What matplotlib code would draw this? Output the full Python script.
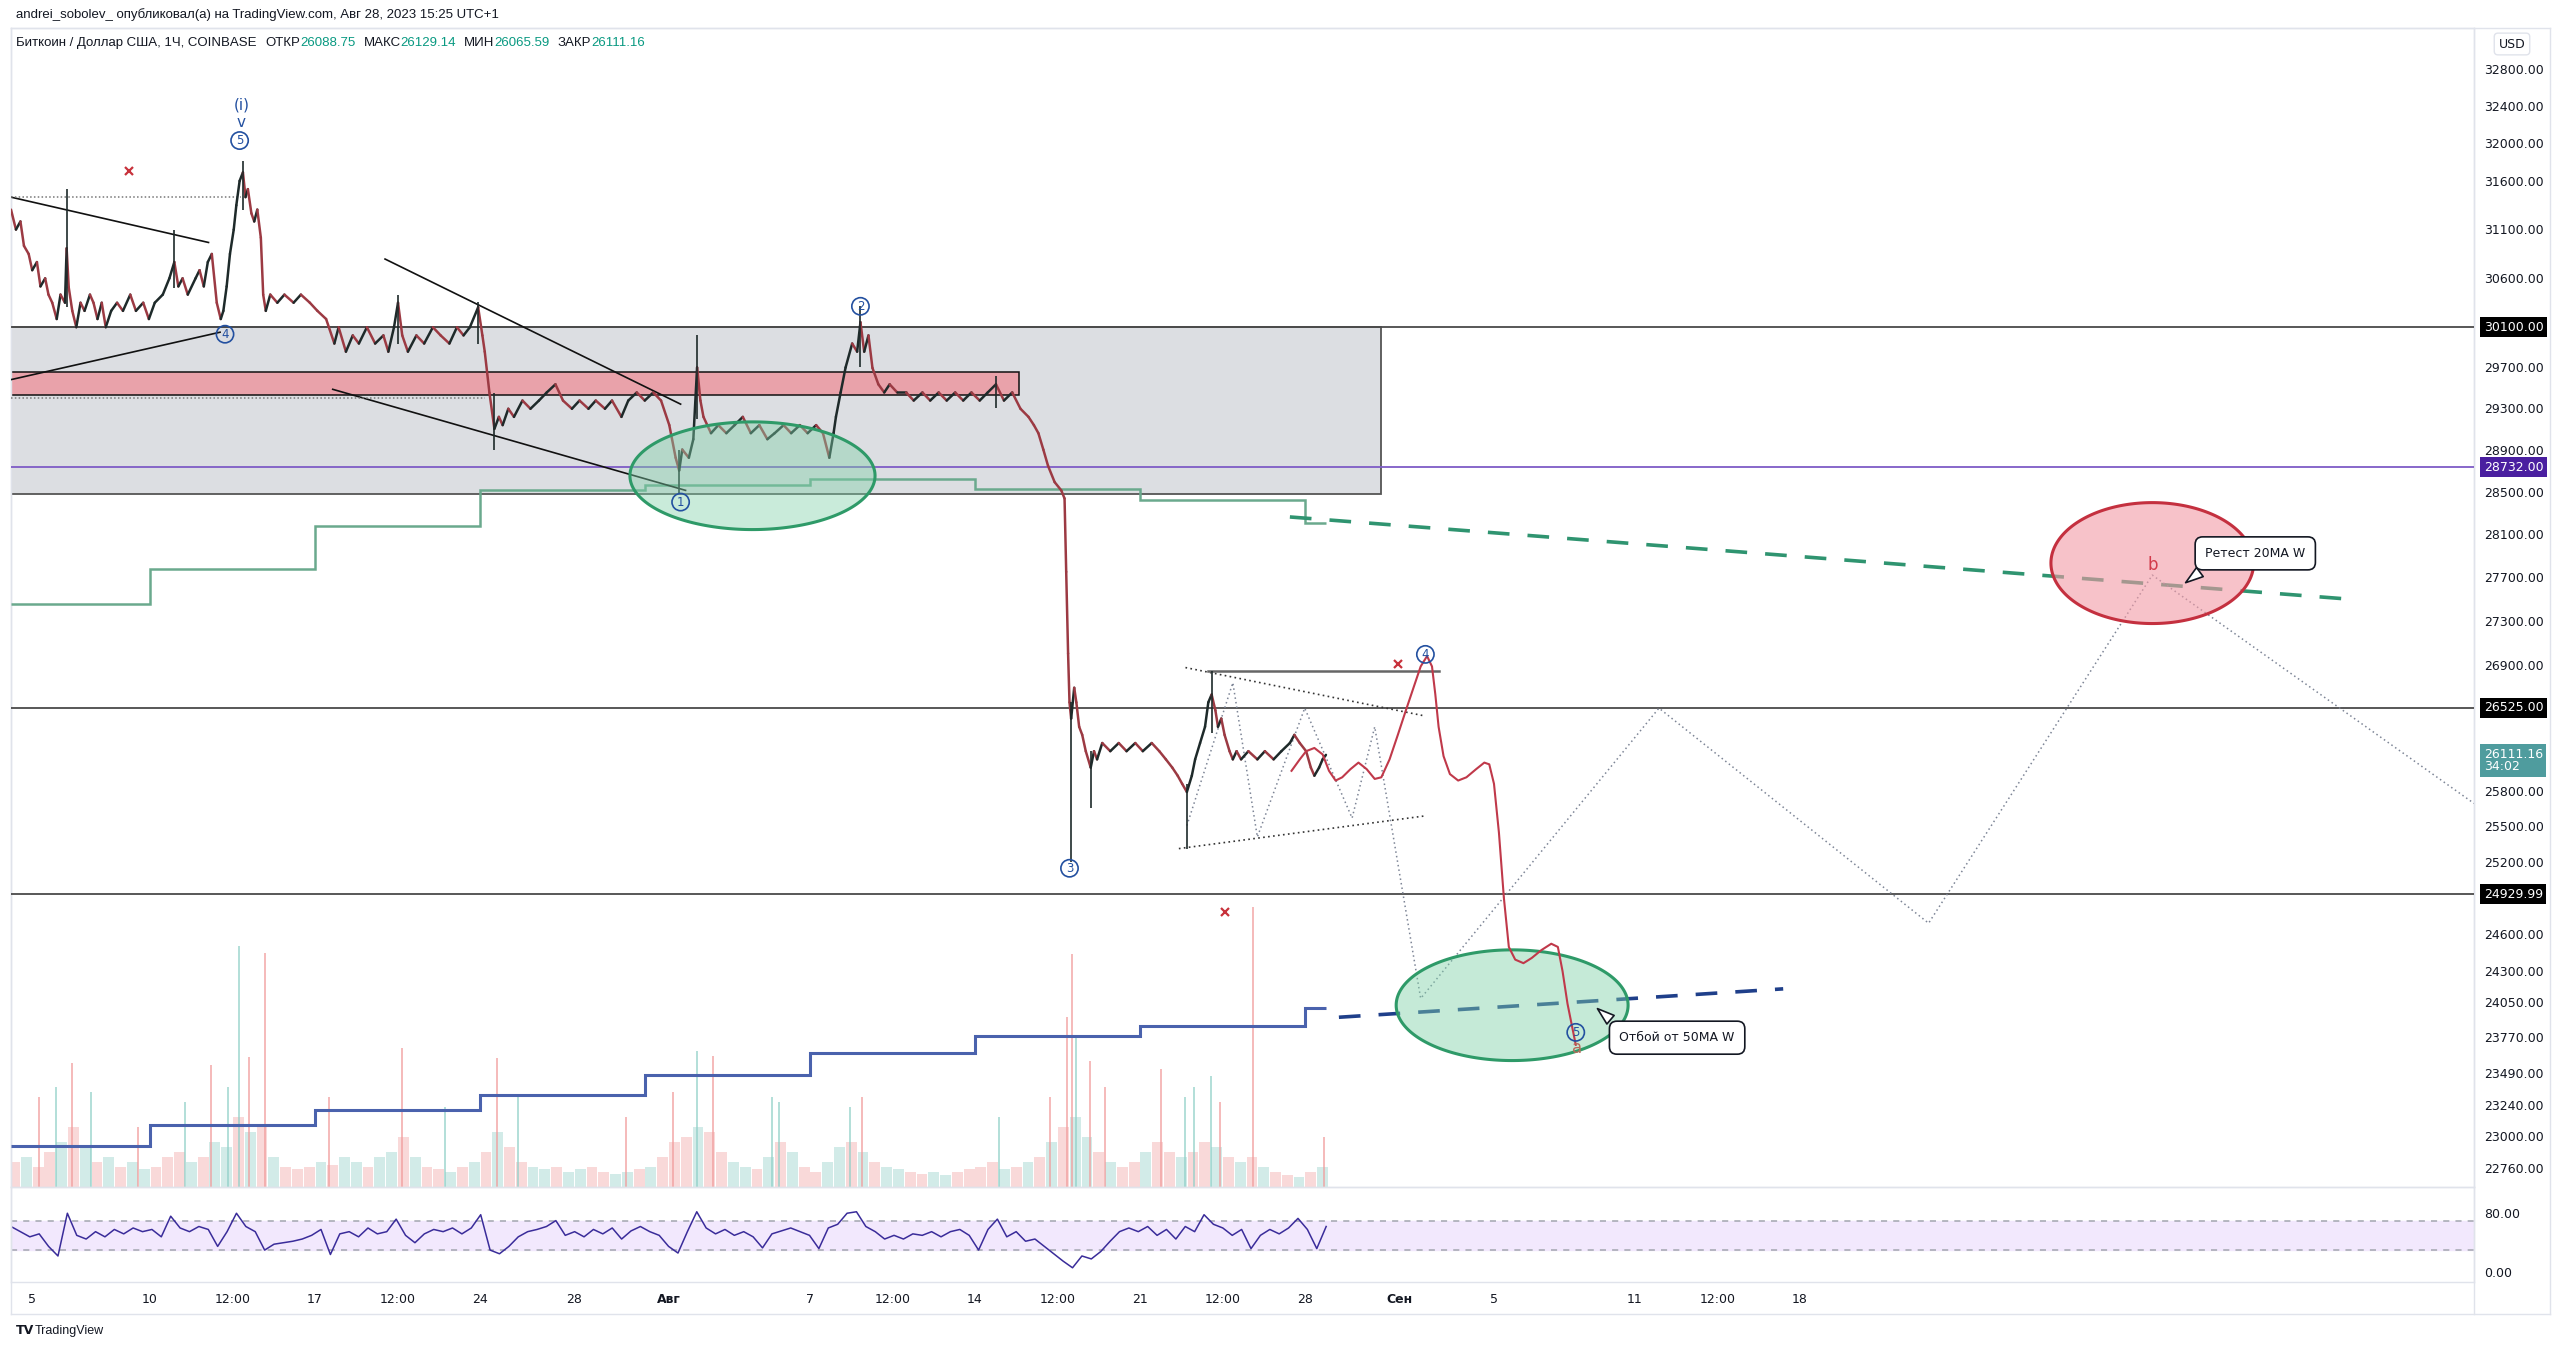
import numpy as np
import matplotlib
matplotlib.use("Agg")
import matplotlib.pyplot as plt
import matplotlib.transforms as mtransforms
from matplotlib.collections import LineCollection
from matplotlib.colors import to_rgba
from matplotlib.lines import Line2D
from matplotlib.patches import Rectangle
from matplotlib.ticker import NullLocator

plt.rcParams["font.family"] = ["DejaVu Sans", "Noto Sans CJK JP"]

# x = days since 1 July 2023 00:00 (UTC+1), y = price in USD (log axis)

# ---------------- price path ----------------
price_points = [
    (3.10, 31300), (3.31, 31093), (3.50, 31177), (3.65, 30925), (3.85, 30842),
    (4.00, 30676), (4.20, 30759), (4.35, 30511), (4.55, 30593), (4.69, 30428),
    (4.85, 30346), (5.04, 30182), (5.20, 30428), (5.39, 30346), (5.46, 30900),
    (5.55, 30500), (5.70, 30264), (5.87, 30100), (6.05, 30346), (6.22, 30264),
    (6.45, 30428), (6.60, 30346), (6.77, 30182), (6.95, 30346), (7.12, 30100),
    (7.35, 30264), (7.60, 30346), (7.85, 30264), (8.16, 30428), (8.40, 30264),
    (8.71, 30346), (8.95, 30182), (9.20, 30346), (9.54, 30428), (9.82, 30593),
    (10.03, 30759), (10.20, 30511), (10.38, 30593), (10.60, 30428), (10.93, 30593),
    (11.10, 30676), (11.28, 30511), (11.45, 30759), (11.62, 30842), (11.83, 30346),
    (12.00, 30182), (12.11, 30264), (12.25, 30511), (12.39, 30842), (12.55, 31093),
    (12.66, 31345), (12.80, 31600), (12.94, 31690), (13.05, 31430), (13.15, 31514),
    (13.30, 31261), (13.42, 31177), (13.55, 31300), (13.70, 31009), (13.80, 30428),
    (13.91, 30264), (14.10, 30428), (14.40, 30346), (14.70, 30428), (15.09, 30346),
    (15.40, 30428), (15.78, 30346), (16.10, 30264), (16.47, 30182), (16.82, 29937),
    (17.00, 30100), (17.31, 29856), (17.60, 30018), (17.86, 29937), (18.20, 30100),
    (18.55, 29937), (18.90, 30018), (19.11, 29856), (19.35, 30100), (19.52, 30346),
    (19.70, 30018), (19.94, 29856), (20.30, 30018), (20.63, 29937), (21.00, 30100),
    (21.33, 30018), (21.70, 29937), (22.02, 30100), (22.30, 30018), (22.57, 30100),
    (22.92, 30300), (23.10, 30018), (23.20, 29856), (23.40, 29450), (23.61, 29100),
    (23.80, 29216), (23.96, 29136), (24.20, 29295), (24.44, 29216), (24.80, 29375),
    (25.14, 29295), (25.50, 29375), (25.83, 29454), (26.20, 29534), (26.52, 29375),
    (26.90, 29295), (27.22, 29375), (27.60, 29295), (27.91, 29375), (28.30, 29295),
    (28.60, 29375), (29.00, 29216), (29.29, 29375), (29.65, 29454), (29.99, 29375),
    (30.35, 29454), (30.68, 29375), (31.03, 29136), (31.30, 28822), (31.45, 28700),
    (31.58, 28900), (31.86, 28822), (32.05, 29000), (32.21, 29700), (32.35, 29375),
    (32.48, 29216), (32.80, 29058), (33.11, 29136), (33.45, 29058), (33.80, 29136),
    (34.15, 29216), (34.49, 29058), (34.85, 29136), (35.19, 29000), (35.50, 29058),
    (35.88, 29136), (36.20, 29058), (36.57, 29136), (36.90, 29058), (37.26, 29136),
    (37.55, 29058), (37.82, 28822), (38.00, 29058), (38.10, 29216), (38.30, 29454),
    (38.51, 29700), (38.79, 29937), (39.00, 29856), (39.14, 30150), (39.30, 29856),
    (39.48, 30018), (39.65, 29695), (39.90, 29534), (40.15, 29454), (40.38, 29534),
    (40.70, 29454), (41.08, 29454), (41.40, 29375), (41.77, 29454), (42.10, 29375),
    (42.46, 29454), (42.80, 29375), (43.16, 29454), (43.50, 29375), (43.85, 29454),
    (44.20, 29375), (44.54, 29454), (44.89, 29534), (45.23, 29375), (45.58, 29454),
    (45.93, 29295), (46.27, 29216), (46.50, 29136), (46.69, 29058), (46.90, 28900),
    (47.10, 28744), (47.38, 28589), (47.66, 28511), (47.80, 28434), (47.87, 27749),
    (47.95, 27007), (48.01, 26571), (48.08, 26428), (48.21, 26700), (48.30, 26571),
    (48.42, 26356), (48.55, 26285), (48.70, 26143), (48.91, 26001), (49.05, 26143),
    (49.18, 26072), (49.40, 26214), (49.74, 26143), (50.10, 26214), (50.43, 26143),
    (50.80, 26214), (51.12, 26143), (51.50, 26214), (51.82, 26143), (52.10, 26072),
    (52.37, 26001), (52.60, 25931), (52.79, 25861), (52.99, 25791), (53.20, 25931),
    (53.34, 26072), (53.55, 26214), (53.76, 26356), (53.90, 26571), (54.04, 26640),
    (54.20, 26500), (54.31, 26356), (54.45, 26428), (54.59, 26285), (54.80, 26143),
    (54.94, 26072), (55.10, 26143), (55.29, 26072), (55.60, 26143), (55.98, 26072),
    (56.30, 26143), (56.67, 26072), (57.00, 26143), (57.36, 26214), (57.55, 26285),
    (57.78, 26214), (58.05, 26143), (58.25, 26001), (58.40, 25931), (58.60, 26001),
    (58.75, 26072), (58.89, 26111),
]

# notable wicks: day, low, high
wick_day = [5.46, 10.03, 12.94, 19.52, 22.92, 23.61, 31.45, 32.21, 39.14, 44.89,
            48.08, 48.91, 52.99, 54.04]
wick_low = [30300, 30500, 31300, 29937, 29937, 28900, 28480, 29200, 29700, 29300,
            25200, 25650, 25306, 26300]
wick_high = [31514, 31093, 31810, 30428, 30350, 29450, 28900, 30018, 30310, 29620,
             26571, 26143, 25861, 26850]

# ---------------- volume (half-day buckets, 3.25 .. 58.75) ----------------
vol_values = [
    250, 300, 200, 350, 450, 600, 400, 250,
    300, 200, 250, 180, 200, 300, 350, 250,
    300, 450, 400, 700, 550, 600, 300, 200,
    180, 200, 250, 220, 300, 250, 200, 300,
    350, 500, 300, 200, 180, 150, 200, 250,
    350, 550, 400, 250, 200, 180, 200, 150,
    180, 200, 150, 130, 150, 180, 200, 300,
    450, 500, 600, 550, 350, 250, 200, 180,
    300, 450, 350, 200, 150, 250, 400, 450,
    350, 250, 200, 180, 150, 130, 150, 120,
    150, 180, 200, 250, 180, 200, 250, 300,
    450, 600, 700, 500, 350, 250, 200, 250,
    350, 450, 350, 300, 350, 450, 400, 300,
    250, 300, 200, 150, 120, 100, 150, 200,
]
vol_dir = ("duddudud" "uduudddu" "duududud" "dduduudu" "ududdudu" "dudduudu" "udduudud"
           "ddudduud" "ududduud" "uduudduu" "ddddudud" "uduududd" "udduddud" "ududdudu")
spike_day = [4.3, 5.0, 5.7, 6.5, 8.5, 10.5, 11.6, 12.3, 12.77, 13.2, 13.87, 16.6, 19.7,
             21.5, 23.7, 24.6, 29.2, 31.2, 32.2, 32.9, 35.4, 35.7, 38.7, 39.2, 45.0,
             47.2, 47.9, 48.1, 48.3, 48.9, 49.5, 51.9, 52.9, 53.3, 54.0, 54.4, 55.8, 58.8]
spike_vol = [900, 1000, 1240, 950, 600, 850, 1220, 1000, 2410, 1300, 2340, 900, 1390,
             800, 1290, 900, 700, 950, 1360, 1310, 900, 850, 800, 900, 700,
             900, 1700, 2330, 1500, 1260, 1000, 1180, 900, 1000, 1110, 850, 2800, 500]
spike_dir = ("d u d u d u d u u d d d d u d u d d u d u u u d u "
             "d d d u d d d u u u d d d").split()

# ---------------- RSI (3.1 .. 58.9) ----------------
rsi_values = [
    62, 55, 48, 52, 35, 22, 80, 50, 45, 55,
    48, 58, 52, 60, 55, 58, 48, 76, 60, 55,
    62, 58, 35, 55, 80, 62, 55, 30, 38, 40,
    42, 45, 50, 58, 24, 52, 55, 48, 60, 52,
    55, 72, 50, 40, 52, 58, 55, 60, 52, 60,
    78, 30, 25, 35, 48, 55, 58, 62, 70, 50,
    55, 48, 58, 52, 60, 45, 56, 62, 55, 50,
    35, 26, 55, 82, 60, 52, 58, 50, 55, 48,
    33, 52, 56, 60, 55, 50, 32, 60, 65, 80,
    82, 62, 55, 45, 50, 45, 52, 50, 55, 48,
    55, 58, 50, 30, 58, 72, 48, 55, 42, 45,
    35, 25, 15, 6, 22, 18, 28, 42, 55, 60,
    55, 62, 50, 58, 45, 62, 55, 78, 65, 60,
    50, 58, 32, 50, 58, 52, 60, 73, 58, 32,
    62,
]

# ---------------- weekly moving averages (steps) ----------------
ma_edges = [3.1, 9, 16, 23, 30, 37, 44, 51, 58, 58.9]
ma20_week = [27450, 27779, 28173, 28511, 28558, 28620, 28527, 28418, 28204]
ma50_week = [22931, 23090, 23207, 23320, 23474, 23650, 23780, 23860, 24000]
ma20_proj_day, ma20_proj_price = [57.36, 102.2], [28260, 27500]
ma50_proj_day, ma50_proj_price = [59.44, 78.29], [23930, 24157]

# ---------------- levels / zones ----------------
level_prices = [30100.00, 28732.00, 26525.00, 24929.99]
level_line_colors = ["#4a4a4a", "#7e5cc6", "#4a4a4a", "#4a4a4a"]
level_box_colors = ["#000000", "#4a1fa0", "#000000", "#000000"]
gray_zone = (3.1, 61.24, 28480, 30100)
red_zone = (3.1, 45.86, 29429, 29651)

# ---------------- hand-drawn lines ----------------
trend_lines = [
    ([3.10, 11.48], [31430, 30960]),
    ([3.10, 11.97], [29580, 30050]),
    ([18.97, 31.51], [30790, 29340]),
    ([16.75, 31.72], [29485, 28511]),
]
dotted_levels = [([3.1, 12.87], [31430, 31430]), ([3.1, 23.2], [29400, 29400])]
triangle_lines = [([52.93, 63.11], [26880, 26450]), ([52.65, 63.11], [25310, 25587])]
triangle_top = ([53.9, 63.67], [26850, 26850])
zigzag_day = [52.99, 54.94, 55.98, 57.99, 60.00, 60.96, 62.91, 73.02, 84.46, 93.95, 107.6]
zigzag_price = [25504, 26745, 25408, 26520, 25568, 26356, 24080, 26520, 24690, 27719, 25693]

red_path_day = [57.43, 57.78, 58.05, 58.40, 58.75, 59.02, 59.30, 59.58, 59.93, 60.27,
                60.62, 60.96, 61.24, 61.59, 61.94, 62.28, 62.63, 62.91, 63.18, 63.39,
                63.53, 63.67, 63.88, 64.15, 64.50, 64.85, 65.26, 65.61, 65.82, 66.02,
                66.23, 66.44, 66.65, 66.92, 67.27, 67.62, 68.03, 68.45, 68.73, 68.93,
                69.14, 69.35, 69.49]
red_path_price = [25973, 26072, 26143, 26171, 26115, 25973, 25889, 25917, 25987, 26044,
                  25987, 25903, 25917, 26072, 26285, 26499, 26716, 26890, 26983, 26890,
                  26643, 26356, 26100, 25945, 25889, 25917, 25987, 26044, 26029, 25861,
                  25444, 24898, 24496, 24393, 24364, 24406, 24470, 24522, 24496, 24298,
                  24037, 23841, 23712]

# ellipses: centre day, centre price, half width (days), half height (log units)
ell_day = [34.56, 66.79, 93.95]
ell_price = [28650, 24026, 27830]
ell_half_days = [5.2, 4.92, 4.3]
ell_half_log = [0.0179, 0.0184, 0.0201]
ell_face = ["#7fd1a8", "#7fd1a8", "#f39aa5"]
ell_alpha = [0.42, 0.45, 0.6]
ell_edge = ["#2e9a68", "#2e9a68", "#c4303f"]

# Elliott wave marks: plain text and circled numbers
wave_text = ["(i)", "v"]
wave_text_day = [12.87, 12.87]
wave_text_price = [32411, 32219]
wave_num = ["5", "4", "2", "1", "3", "4", "5"]
wave_num_day = [12.80, 12.18, 39.14, 31.51, 48.01, 63.11, 69.49]
wave_num_price = [32027, 30030, 30310, 28400, 25145, 26998, 23810]
letter_labels = ["a", "b"]
letter_day = [69.56, 93.95]
letter_price = [23690, 27810]
letter_colors = ["#b86b5a", "#d23b4b"]
cross_day = [8.09, 61.94, 54.59]
cross_price = [31700, 26910, 24780]

price_ticks = [32800, 32400, 32000, 31600, 31100, 30600, 30100, 29700, 29300, 28900,
               28500, 28100, 27700, 27300, 26900, 25800, 25500, 25200, 24600, 24300,
               24050, 23770, 23490, 23240, 23000, 22760]
xtick_days = [4, 9, 12.5, 16, 19.5, 23, 27, 31, 37, 40.5, 44, 47.5, 51, 54.5, 58, 62,
              66, 72, 75.5, 79]
xtick_labels = ["5", "10", "12:00", "17", "12:00", "24", "28", "Авг", "7", "12:00",
                "14", "12:00", "21", "12:00", "28", "Сен", "5", "11", "12:00", "18"]

last_price = 26111.16
TEXT = "#131722"
WAVE = "#2350a0"
TEAL = "#089981"

# ---------------- layout ----------------
W, H = 2560, 1348
fig = plt.figure(figsize=(W / 100, H / 100), dpi=100)
fig.patch.set_facecolor("white")


def fx(px):
    return px / W


def fy(py):
    return 1 - py / H


main_rect = [fx(11), fy(1187), fx(2474 - 11), (1187 - 28) / H]
vol_ax = fig.add_axes(main_rect, zorder=0)
ax = fig.add_axes(main_rect, zorder=2, sharex=vol_ax)
rsi_ax = fig.add_axes([fx(11), fy(1282), fx(2474 - 11), (1282 - 1187) / H], sharex=vol_ax)
ax.patch.set_visible(False)

xlim = (3.1, 107.6)
ax.set_xlim(*xlim)
ax.set_yscale("log")
ax.set_ylim(22617, 33248)

# volume
vol_ax.axis("off")
vol_ax.set_ylim(0, 11590)
vol_days = np.linspace(3.25, 58.75, len(vol_values))
vol_cols = [("#a6d9d3" if c == "u" else "#f4b5b5") for c in vol_dir]
vol_ax.bar(vol_days, vol_values, width=0.46, color=vol_cols, alpha=0.5, linewidth=0)
vol_ax.vlines(spike_day, 0, spike_vol,
              colors=[("#8fcfc7" if c == "u" else "#f19a9a") for c in spike_dir],
              lw=1.2, alpha=0.8)

# zones
gx0, gx1, gy0, gy1 = gray_zone
ax.add_patch(Rectangle((gx0, gy0), gx1 - gx0, gy1 - gy0, fc="#dcdee2", ec="#555555",
                       lw=1.3, zorder=1))
rx0, rx1, ry0, ry1 = red_zone
ax.add_patch(Rectangle((rx0, ry0), rx1 - rx0, ry1 - ry0, fc="#e9a2aa", ec="#111111",
                       lw=1.1, zorder=2))

for lv, lc in zip(level_prices, level_line_colors):
    ax.axhline(lv, color=lc, lw=1.3, zorder=3)

# weekly MAs
ax.stairs(ma20_week, ma_edges, baseline=None, color="#6aa98d", lw=1.8, zorder=3)
ax.stairs(ma50_week, ma_edges, baseline=None, color="#4a62ad", lw=2.2, zorder=3)
ax.plot(ma20_proj_day, ma20_proj_price, color="#2f9470", lw=2.6, ls=(0, (6, 5)), zorder=4)
ax.plot(ma50_proj_day, ma50_proj_price, color="#1f3f8a", lw=2.6, ls=(0, (6, 5)), zorder=4)

# hand-drawn lines
for xs, ys in trend_lines:
    ax.plot(xs, ys, color="#111111", lw=1.2, zorder=4)
for xs, ys in dotted_levels:
    ax.plot(xs, ys, color="#777777", lw=1.1, ls=(0, (1, 1.5)), zorder=4)
for xs, ys in triangle_lines:
    ax.plot(xs, ys, color="#333333", lw=1.2, ls=(0, (1, 2)), zorder=4)
ax.plot(*triangle_top, color="#666666", lw=1.8, zorder=4)
ax.plot(zigzag_day, zigzag_price, color="#7d8596", lw=1.1, ls=(0, (1, 2)), zorder=4)

# price path
pd_ = [p[0] for p in price_points]
pc_ = [p[1] for p in price_points]
segs = [[(pd_[i], pc_[i]), (pd_[i + 1], pc_[i + 1])] for i in range(len(pd_) - 1)]
seg_cols = ["#1e2a2a" if pc_[i + 1] >= pc_[i] else "#9c3a43" for i in range(len(pd_) - 1)]
ax.add_collection(LineCollection(segs, colors=seg_cols, linewidths=1.8, zorder=5,
                                 capstyle="round"))
ax.vlines(wick_day, wick_low, wick_high, color="#1e2a2a", lw=1.2, zorder=5)

# ellipses
t = np.linspace(0, 2 * np.pi, 240)
for cx, cy, a, b, fc_, al, ec_ in zip(ell_day, ell_price, ell_half_days, ell_half_log,
                                      ell_face, ell_alpha, ell_edge):
    ax.fill(cx + a * np.cos(t), cy * np.exp(b * np.sin(t)), facecolor=to_rgba(fc_, al),
            edgecolor=ec_, lw=2.2, zorder=6)

# projected path
ax.plot(red_path_day, red_path_price, color="#c0394a", lw=1.5, zorder=7,
        solid_joinstyle="round")

# labels
for lab, d, p in zip(wave_text, wave_text_day, wave_text_price):
    ax.text(d, p, lab, color=WAVE, fontsize=11, ha="center", va="center", zorder=9)
for lab, d, p in zip(wave_num, wave_num_day, wave_num_price):
    ax.text(d, p, lab, color=WAVE, fontsize=8.5, ha="center", va="center", zorder=9,
            bbox=dict(boxstyle="circle,pad=0.18", fc="none", ec=WAVE, lw=1.2))
for lab, d, p, c in zip(letter_labels, letter_day, letter_price, letter_colors):
    ax.text(d, p, lab, color=c, fontsize=12, ha="center", va="center", zorder=9)
ax.plot(cross_day, cross_price, ls="none", marker="x", ms=5.5, mew=1.6, color="#c8323c",
        zorder=9)

# callouts
ax.annotate("Ретест 20MA W", xy=(95.27, 27634), xytext=(98.32, 27920),
            fontsize=9, ha="center", va="center", color=TEXT, zorder=10,
            bbox=dict(boxstyle="round,pad=0.8,rounding_size=0.6", fc="white", ec=TEXT, lw=1.2),
            arrowprops=dict(arrowstyle="wedge,tail_width=0.9,shrink_factor=0.5", fc="white",
                            ec=TEXT, lw=1.2, relpos=(0.12, 0.05)))
ax.annotate("Отбой от 50MA W", xy=(70.32, 24013), xytext=(73.79, 23768),
            fontsize=9, ha="center", va="center", color=TEXT, zorder=10,
            bbox=dict(boxstyle="round,pad=0.8,rounding_size=0.6", fc="white", ec=TEXT, lw=1.2),
            arrowprops=dict(arrowstyle="wedge,tail_width=0.9,shrink_factor=0.5", fc="white",
                            ec=TEXT, lw=1.2, relpos=(0.06, 0.85)))

# price axis
ax.yaxis.tick_right()
ax.yaxis.set_minor_locator(NullLocator())
ax.set_yticks(price_ticks)
ax.set_yticklabels([f"{v:.2f}" for v in price_ticks])
ax.tick_params(axis="y", which="both", length=0, pad=7, labelsize=9, labelcolor=TEXT)
ax.tick_params(axis="x", which="both", length=0, labelbottom=False)

trans = mtransforms.blended_transform_factory(ax.transAxes, ax.transData)
for lv, bc in zip(level_prices, level_box_colors):
    ax.annotate(f"{lv:.2f}", xy=(1, lv), xycoords=trans, xytext=(7, 0),
                textcoords="offset points", va="center", ha="left", fontsize=9,
                color="white", annotation_clip=False, zorder=20,
                bbox=dict(boxstyle="square,pad=0.28", fc=bc, ec="none"))
ax.annotate(f"{last_price:.2f}\n34:02", xy=(1, last_price), xycoords=trans, xytext=(7, -4),
            textcoords="offset points", va="center", ha="left", fontsize=9,
            color="white", annotation_clip=False, zorder=20, linespacing=0.95,
            bbox=dict(boxstyle="square,pad=0.28", fc="#4f9c9e", ec="none"))

for a_ in (ax, rsi_ax):
    for s in a_.spines.values():
        s.set_color("#e0e3eb")
        s.set_linewidth(1)

# RSI pane
rsi_days = np.linspace(3.1, 58.9, len(rsi_values))
rsi_ax.set_ylim(-13.3, 115.6)
rsi_ax.axhspan(30, 70, color="#f2e8fd", zorder=0)
for lv in (70, 30):
    rsi_ax.axhline(lv, color="#a3a6af", lw=1.1, ls=(0, (4, 4)), zorder=1)
rsi_ax.plot(rsi_days, rsi_values, color="#3a2c9a", lw=1.1, zorder=2)
rsi_ax.yaxis.tick_right()
rsi_ax.set_yticks([80, 0])
rsi_ax.set_yticklabels(["80.00", "0.00"])
rsi_ax.tick_params(axis="y", length=0, pad=7, labelsize=9, labelcolor=TEXT)
rsi_ax.set_xticks(xtick_days)
rsi_ax.set_xticklabels(xtick_labels)
rsi_ax.tick_params(axis="x", length=0, pad=8, labelsize=9, labelcolor=TEXT)
for lab in rsi_ax.get_xticklabels():
    if lab.get_text() in ("Авг", "Сен"):
        lab.set_fontweight("bold")
rsi_ax.set_xlim(*xlim)

# frame lines of the widget
frame = "#e0e3eb"
for x0, y0, x1, y1 in [(11, 28, 2550, 28), (11, 1314, 2550, 1314), (2550, 28, 2550, 1314),
                       (2474, 28, 2474, 1314), (11, 28, 11, 1314)]:
    fig.add_artist(Line2D([fx(x0), fx(x1)], [fy(y0), fy(y1)], color=frame, lw=1))

fig.text(fx(2512), fy(44), "USD", fontsize=9, color=TEXT, ha="center", va="center",
         bbox=dict(boxstyle="round,pad=0.35,rounding_size=0.3", fc="white", ec="#e0e3eb"))

# header texts
fig.text(fx(16), fy(15), "andrei_sobolev_ опубликовал(а) на TradingView.com, Авг 28, 2023 15:25 UTC+1",
         fontsize=9.5, color=TEXT, ha="left", va="center", family=["Liberation Sans"])

renderer = fig.canvas.get_renderer()
legend_parts = [("Биткоин / Доллар США, 1Ч, COINBASE", TEXT, 9), ("ОТКР", TEXT, 0),
                ("26088.75", TEAL, 8), ("МАКС", TEXT, 0), ("26129.14", TEAL, 8),
                ("МИН", TEXT, 0), ("26065.59", TEAL, 8), ("ЗАКР", TEXT, 0),
                ("26111.16", TEAL, 0)]
xpos = 16
for txt, col, gap in legend_parts:
    tt = fig.text(fx(xpos), fy(43), txt, fontsize=9.5, color=col, ha="left", va="center",
                  family=["Liberation Sans"])
    xpos += tt.get_window_extent(renderer).width + gap

fig.text(fx(16), fy(1331), "TV", fontsize=9, fontweight="bold", color=TEXT, ha="left",
         va="center")
fig.text(fx(35), fy(1331), "TradingView", fontsize=9, color=TEXT, ha="left", va="center",
         family=["Liberation Sans"])

fig.savefig("out.png", dpi=100, facecolor="white")
